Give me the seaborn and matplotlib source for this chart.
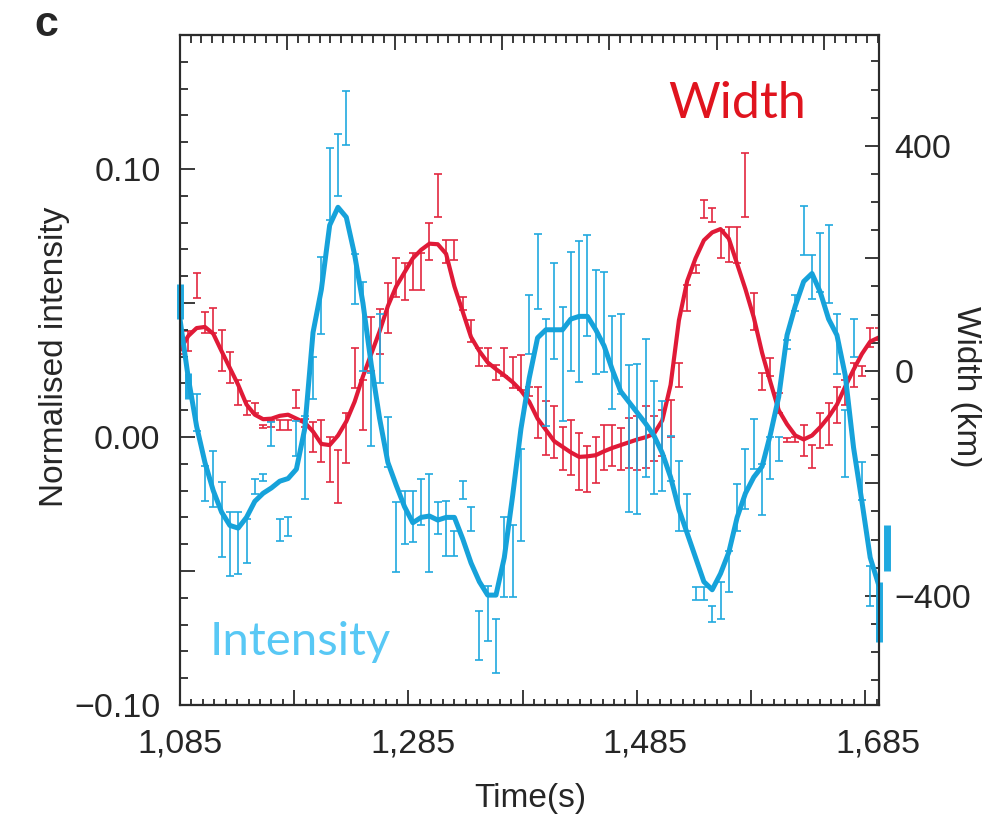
import numpy as np
import matplotlib
matplotlib.use("Agg")
import matplotlib.pyplot as plt
import seaborn as sns
from matplotlib.ticker import MultipleLocator, FuncFormatter

# Sample grid (s) -- one point every ~7.15 s
time_s = 1085 + 7.15 * np.arange(86)

# Width (km): smoothed curve and error bar low/high
width_line = [37, 62, 76, 78, 66, 35, 5, -25, -60, -78,
              -86, -85, -80, -78, -85, -92, -108, -130, -132, -115,
              -90, -55, -10, 30, 70, 115, 150, 175, 200, 215,
              226, 225, 208, 150, 105, 60, 35, 15, 3, -8,
              -20, -35, -55, -85, -105, -125, -135, -145, -153, -152,
              -150, -143, -137, -132, -127, -122, -118, -112, -88, -25,
              90, 160, 200, 232, 246, 252, 235, 190, 145, 95,
              32, -20, -70, -95, -115, -122, -115, -100, -82, -60,
              -28, 2, 30, 52, 59]
width_lo = [30, 35, 130, 67, 67, -1, -22, -60, -78, -75,
            -102, -99, -105, -105, -66, -100, -144, -162, -197, -235,
            -164, -30, -105, -1, 30, 67, 132, 126, 144, 144,
            197, 274, 191, 197, 108, 52, 8, 8, -16, -10,
            -31, -34, -45, -120, -149, -155, -176, -185, -212, -215,
            -200, -176, -170, -176, -173, -176, -173, -161, -152, -117,
            -28, 106, 173, 271, 265, 200, 194, 191, 274, 73,
            -34, -10, -75, -126, -126, -152, -173, -137, -131, -93,
            -60, -28, -10, 43, 55]
width_hi = [42, 70, 174, 105, 111, 73, 34, -16, -54, -57,
            -96, -90, -87, -87, -34, -85, -91, -87, -117, -140,
            -75, 41, -16, 96, 110, 156, 200, 191, 209, 209,
            262, 350, 233, 233, 132, 91, 40, 40, 11, 40,
            25, 28, -28, -28, -54, -63, -99, -87, -111, -134,
            -117, -96, -96, -102, -84, -81, -63, -81, -69, -51,
            14, 153, 188, 304, 289, 250, 256, 256, 387, 138,
            -4, 23, -40, -120, -117, -96, -132, -75, -57, -28,
            -16, 14, 8, 76, 76]

# Normalised intensity: smoothed curve and error bar low/high
intensity_line = [0.044, 0.022, 0.004, -0.0095, -0.020, -0.028, -0.033, -0.034, -0.030, -0.024,
                  -0.021, -0.019, -0.0165, -0.0155, -0.012, 0.003, 0.039, 0.055, 0.079, 0.0857,
                  0.082, 0.068, 0.050, 0.027, 0.007, -0.0095, -0.018, -0.026, -0.032, -0.030,
                  -0.0295, -0.031, -0.030, -0.030, -0.038, -0.047, -0.054, -0.059, -0.059, -0.045,
                  -0.022, 0.003, 0.022, 0.037, 0.040, 0.040, 0.040, 0.044, 0.045, 0.045,
                  0.040, 0.034, 0.025, 0.017, 0.013, 0.009, 0.005, 0.0005, -0.006, -0.015,
                  -0.027, -0.036, -0.045, -0.054, -0.057, -0.051, -0.043, -0.030, -0.021, -0.015,
                  -0.011, 0.001, 0.015, 0.038, 0.049, 0.058, 0.061, 0.054, 0.044, 0.038,
                  0.023, -0.004, -0.024, -0.045, -0.055]
intensity_lo = [0.044, 0.014, 0.0024, -0.0238, -0.0263, -0.0449, -0.052, -0.051, -0.047, -0.0213,
                -0.0163, -0.0032, -0.0387, -0.037, -0.007, -0.0231, 0.0142, 0.0384, 0.081, 0.090,
                0.109, 0.0496, 0.0247, -0.0032, 0.020, -0.0113, -0.0505, -0.040, -0.039, -0.033,
                -0.0505, -0.0362, -0.0443, -0.0443, -0.023, -0.035, -0.0834, -0.076, -0.088, -0.0598,
                -0.0598, -0.0387, 0.031, 0.0477, 0.004, 0.0291, 0.006, 0.0247, 0.0204, 0.0378,
                0.0235, 0.0241, 0.0104, 0.016, -0.028, -0.0287, -0.015, -0.0213, -0.020, -0.0163,
                -0.035, -0.035, -0.061, -0.061, -0.069, -0.068, -0.058, -0.035, -0.027, -0.012,
                -0.029, -0.0157, -0.0088, 0.033, 0.047, 0.068, 0.0516, 0.054, 0.050, 0.0235,
                -0.015, 0.030, -0.0237, -0.063, -0.0765, -0.050]
intensity_hi = [0.057, 0.024, 0.016, -0.0107, -0.0051, -0.0169, -0.0281, -0.028, -0.0306, -0.0157,
                -0.0138, 0.0055, -0.0306, -0.030, 0.0061, 0.008, 0.030, 0.067, 0.108, 0.113,
                0.129, 0.0683, 0.0577, 0.024, 0.046, 0.0074, -0.0244, -0.020, -0.020, -0.0157,
                -0.0138, -0.0244, -0.0238, -0.035, -0.0163, -0.0263, -0.0648, -0.0555, -0.068, -0.030,
                -0.033, -0.0045, 0.053, 0.0757, 0.044, 0.0651, 0.0484, 0.0689, 0.0732, 0.0752,
                0.0622, 0.0615, 0.0453, 0.046, 0.027, 0.0272, 0.0366, 0.021, 0.0135, 0.0005,
                -0.0088, -0.0213, -0.056, -0.056, -0.063, -0.054, -0.0424, -0.0175, -0.0045, 0.0067,
                -0.010, 0.0001, 0.0001, 0.036, 0.053, 0.086, 0.068, 0.076, 0.079, 0.046,
                0.010, 0.044, -0.0095, -0.048, -0.054, -0.033]
# end samples drawn as thick bars
thick_idx = [0, 1, 84, 85]

x_labels = [1085, 1285, 1485, 1685]

red_line = "#e01a37"
red_bar = "#e3283f"
blue_line = "#16a2da"
blue_bar = "#20a9df"
axis_col = "#2b2b2b"

sns.set_style("ticks")
plt.rcParams["font.family"] = ["Liberation Sans", "DejaVu Sans"]

fig = plt.figure(figsize=(10.01, 8.17), dpi=100)
ax = fig.add_axes([0.1798, 0.1371, 0.6983, 0.8201])
ax2 = ax.twinx()
ax.set_zorder(ax2.get_zorder() + 1)
ax.patch.set_visible(False)

n_w = len(width_line)
n_i = len(intensity_line)
w_lo = np.array(width_lo)
w_hi = np.array(width_hi)
i_lo = np.array(intensity_lo)
i_hi = np.array(intensity_hi)

# Width series (right axis)
ax2.errorbar(time_s[:n_w], (w_lo + w_hi) / 2, yerr=(w_hi - w_lo) / 2, fmt="none",
             ecolor=red_bar, elinewidth=1.2, capsize=2.8, capthick=1.2)
sns.lineplot(x=time_s[:n_w], y=width_line, ax=ax2, color=red_line, lw=3.0)

# Intensity series (left axis)
thin = [k for k in range(len(i_lo)) if k not in thick_idx]
ax.errorbar(time_s[thin], (i_lo[thin] + i_hi[thin]) / 2, yerr=(i_hi[thin] - i_lo[thin]) / 2,
            fmt="none", ecolor=blue_bar, elinewidth=1.2, capsize=2.8, capthick=1.2)
eb = ax.errorbar(time_s[thick_idx], (i_lo[thick_idx] + i_hi[thick_idx]) / 2,
                 yerr=(i_hi[thick_idx] - i_lo[thick_idx]) / 2, fmt="none",
                 ecolor=blue_bar, elinewidth=5, capsize=0)
for c in eb.get_children():
    c.set_clip_on(False)
sns.lineplot(x=time_s[:n_i], y=intensity_line, ax=ax, color=blue_line, lw=3.6)

ax.set_xlim(1086, 1686)
ax.set_ylim(-0.10, 0.150)
ax2.set_ylim(-594, 597)
ax.set_xlabel("")
ax.set_ylabel("")
ax2.set_ylabel("")

# bottom labels (marks drawn by secondary axes)
ax.set_xticks(x_labels, [f"{v:,}" for v in x_labels])
ax.tick_params(axis="x", which="both", length=0, pad=17, labelsize=24.5, top=False)

sec_b = ax.secondary_xaxis("bottom")
sec_b.xaxis.set_major_locator(MultipleLocator(98.2, offset=1085))
sec_b.xaxis.set_minor_locator(MultipleLocator(9.82, offset=1085))
sec_b.tick_params(which="both", direction="in", labelbottom=False, color=axis_col, width=1.3)
sec_b.tick_params(which="major", length=11)
sec_b.tick_params(which="minor", length=4.5)

sec_t = ax.secondary_xaxis("top")
sec_t.xaxis.set_major_locator(MultipleLocator(92.3, offset=1085))
sec_t.xaxis.set_minor_locator(MultipleLocator(9.23, offset=1085))
sec_t.tick_params(which="both", direction="in", labeltop=False, color=axis_col, width=1.3)
sec_t.tick_params(which="major", length=11)
sec_t.tick_params(which="minor", length=5.5)
for s in (sec_b, sec_t):
    for sp in s.spines.values():
        sp.set_color(axis_col)
        sp.set_linewidth(1.5)


def left_fmt(v, pos):
    if abs(v * 10 - round(v * 10)) > 1e-6:
        return ""
    return f"{v:.2f}".replace("-", "\u2212")


def right_fmt(v, pos):
    if abs(v) > 1e-6 and abs(v) != 400:
        return ""
    return f"{v:.0f}".replace("-", "\u2212")


ax.yaxis.set_major_locator(MultipleLocator(0.05))
ax.yaxis.set_minor_locator(MultipleLocator(0.01))
ax.yaxis.set_major_formatter(FuncFormatter(left_fmt))
ax.tick_params(axis="y", which="both", direction="in", right=False, color=axis_col,
               width=1.3, labelsize=24.5, pad=14)
ax.tick_params(axis="y", which="major", length=11)
ax.tick_params(axis="y", which="minor", length=6)

ax2.yaxis.set_major_locator(MultipleLocator(200))
ax2.yaxis.set_minor_locator(MultipleLocator(50))
ax2.yaxis.set_major_formatter(FuncFormatter(right_fmt))
ax2.tick_params(axis="y", which="both", direction="in", left=False, color=axis_col,
                width=1.3, labelsize=24.5, pad=11)
ax2.tick_params(axis="y", which="major", length=10)
ax2.tick_params(axis="y", which="minor", length=6)

for a in (ax, ax2):
    for sp in a.spines.values():
        sp.set_color(axis_col)
        sp.set_linewidth(1.5)

# series names inside the plot
ax.text(0.698, 0.876, "Width", transform=ax.transAxes, color="#e0141e",
        fontsize=36, family=["Lato", "DejaVu Sans"], ha="left", va="baseline")
ax.text(0.043, 0.0746, "Intensity", transform=ax.transAxes, color="#58c8f5",
        fontsize=34, family=["Lato", "DejaVu Sans"], ha="left", va="baseline")

# axis titles and panel letter
fig.text(55 / 1001, 1 - 357 / 817, "Normalised intensity", rotation=90,
         ha="center", va="center", fontsize=24)
fig.text(965 / 1001, 1 - 387 / 817, "Width (km)", rotation=270,
         ha="center", va="center", fontsize=24)
fig.text(530 / 1001, 1 - 798 / 817, "Time(s)", ha="center", va="center", fontsize=24)
fig.text(46 / 1001, 1 - 25 / 817, "c", ha="center", va="center", fontsize=31,
         fontweight="bold")

fig.savefig("out.png", dpi=100)
